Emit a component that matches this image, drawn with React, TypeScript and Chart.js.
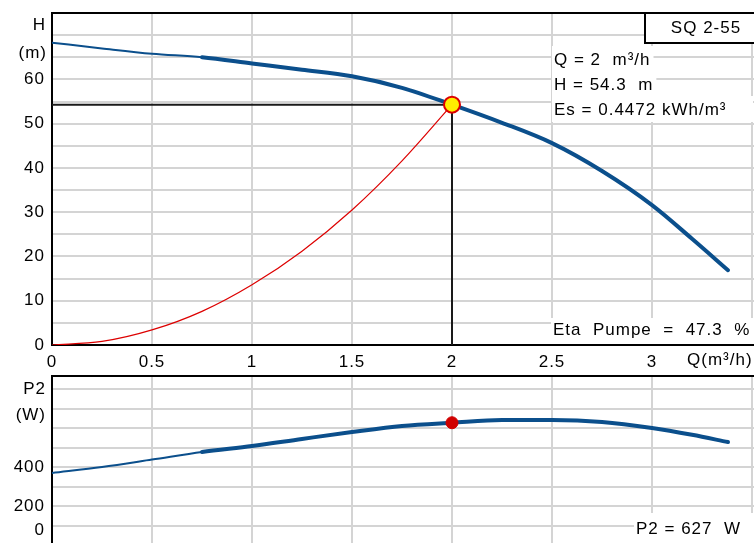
import React, { useEffect, useRef } from "react";
import { Chart, registerables } from "chart.js";
Chart.register(...registerables);

// ---------- data ----------
const Q_PUMP = [0, 0.25, 0.5, 0.75, 1, 1.25, 1.5, 1.75, 2, 2.25, 2.5, 2.75, 3, 3.2, 3.38];
const H_PUMP = [68.3, 67.0, 65.8, 65.0, 63.6, 62.2, 60.7, 58.1, 54.3, 50.2, 45.6, 39.3, 31.6, 24.0, 16.9];
const P2_PUMP = [369, 400, 438, 477, 508, 544, 579, 610, 627, 641, 641, 631, 600, 565, 528];
const Q_SYSTEM = [0, 0.25, 0.5, 0.75, 1, 1.25, 1.5, 1.75, 2];
const H_SYSTEM = [0, 0.8, 3.4, 7.6, 13.6, 21.2, 30.5, 41.6, 54.3];
const Q_DUTY = 2;
const H_DUTY = 54.3;
const P2_DUTY = 627;
const THICK_FROM_Q = 0.75;

const X_GRID = [0, 0.5, 1, 1.5, 2, 2.5, 3, 3.5];
const X_LABELS = ["0", "0.5", "1", "1.5", "2", "2.5", "3", ""];
const H_GRID = [0, 5, 10, 15, 20, 25, 30, 35, 40, 45, 50, 55, 60, 65, 70, 75];
const H_LABELS = ["0", "", "10", "", "20", "", "30", "", "40", "", "50", "", "60", "", "", ""];
const P2_GRID = [0, 100, 200, 300, 400, 500, 600, 700, 800];
const P2_LABELS = ["", "", "200", "", "400", "", "", "", ""];
const P2_ZERO_LABEL = "0";

const TITLE = "SQ 2-55";
const INFO_LINES = ["Q = 2  m³/h", "H = 54.3  m", "Es = 0.4472 kWh/m³"];
const ETA_TEXT = "Eta  Pumpe  =  47.3  %";
const P2_TEXT = "P2 = 627  W";
const H_UNIT = ["H", "(m)"];
const P2_UNIT = ["P2", "(W)"];
const Q_UNIT = "Q(m³/h)";

const BLUE = "#0b4f8c";
const RED = "#dd0000";
const YELLOW = "#ffee00";
const GRID = "#d4d4d4";
const FAMILY = "'Liberation Sans', Arial, sans-serif";
const FS = 17;
const FONT = `${FS}px ${FAMILY}`;
const SPACING = "1px";

const spacingPlugin = {
  id: "spacing",
  beforeUpdate(c: any) { c.ctx.letterSpacing = SPACING; },
  beforeDraw(c: any) { c.ctx.letterSpacing = SPACING; },
};

function boxText(ctx: any, text: string, x: number, yc: number, y0: number, y1: number, right?: number) {
  const w = ctx.measureText(text).width;
  ctx.fillStyle = "#fff";
  const r = right ?? x + w + 3;
  ctx.fillRect(x - 2, y0, r - (x - 2), y1 - y0);
  ctx.fillStyle = "#000";
  ctx.fillText(text, x, yc);
}

const topPlugin = {
  id: "topDeco",
  beforeDatasetsDraw(c: any) {
    const ctx = c.ctx;
    const { bottom } = c.chartArea;
    ctx.save();
    ctx.font = FONT;
    ctx.letterSpacing = SPACING;
    ctx.textBaseline = "middle";
    ctx.textAlign = "left";
    const ys = [60, 85, 110];
    INFO_LINES.forEach((t, i) =>
      boxText(ctx, t, 554, ys[i], ys[i] - 14, ys[i] + 12, i === 2 ? 753 : undefined)
    );
    boxText(ctx, ETA_TEXT, 553, 330, 318, bottom - 1, c.width);
    ctx.restore();
  },
  afterDraw(c: any) {
    const ctx = c.ctx;
    const { left, top, right } = c.chartArea;
    ctx.save();
    // SQ box
    ctx.fillStyle = "#fff";
    ctx.fillRect(645, top, c.width - 645, 30);
    ctx.strokeStyle = "#000";
    ctx.lineWidth = 2;
    ctx.strokeRect(645, top, c.width, 30);
    // top border
    ctx.beginPath();
    ctx.moveTo(left - 1, top);
    ctx.lineTo(right, top);
    ctx.stroke();
    ctx.font = FONT;
    ctx.letterSpacing = SPACING;
    ctx.fillStyle = "#000";
    ctx.textBaseline = "middle";
    ctx.textAlign = "center";
    ctx.fillText(TITLE, 706, top + 15);
    ctx.textAlign = "right";
    ctx.fillText(H_UNIT[0], 46, 25);
    ctx.fillText(H_UNIT[1], 47, 53);
    ctx.textAlign = "left";
    ctx.fillText(Q_UNIT, 687, 360);
    ctx.restore();
  },
};

const botPlugin = {
  id: "botDeco",
  beforeDatasetsDraw(c: any) {
    const ctx = c.ctx;
    const { bottom } = c.chartArea;
    ctx.save();
    ctx.font = FONT;
    ctx.letterSpacing = SPACING;
    ctx.textBaseline = "middle";
    ctx.textAlign = "left";
    boxText(ctx, P2_TEXT, 636, 167, 151, bottom, c.width);
    ctx.restore();
  },
  afterDraw(c: any) {
    const ctx = c.ctx;
    const { left, top, right } = c.chartArea;
    const y = c.scales.y;
    ctx.save();
    ctx.strokeStyle = "#000";
    ctx.lineWidth = 2;
    ctx.beginPath();
    ctx.moveTo(left - 1, top);
    ctx.lineTo(right, top);
    ctx.stroke();
    ctx.font = FONT;
    ctx.letterSpacing = SPACING;
    ctx.fillStyle = "#000";
    ctx.textBaseline = "middle";
    ctx.textAlign = "right";
    ctx.fillText(P2_UNIT[0], 46, top + 13);
    ctx.fillText(P2_UNIT[1], 46, top + 39);
    // zero label, pushed up to stay inside the visible window
    ctx.fillText(P2_ZERO_LABEL, 45, Math.min(y.getPixelForValue(0), c.height - 32));
    ctx.restore();
  },
};

const pts = (xs: number[], ys: number[]) => xs.map((x, i) => ({ x, y: ys[i] }));

export default function App() {
  const topRef = useRef<HTMLCanvasElement>(null);
  const botRef = useRef<HTMLCanvasElement>(null);

  useEffect(() => {
    Chart.defaults.font.family = FAMILY;
    Chart.defaults.font.size = FS;
    Chart.defaults.color = "#000";

    const seg = {
      borderWidth: (s: any) => (s.p0.parsed.x < THICK_FROM_Q - 1e-6 ? 2 : 4),
    };

    const xScale = (showLabels: boolean, height: number) => ({
      type: "linear" as const,
      min: 0,
      max: 3.6,
      afterBuildTicks: (s: any) => { s.ticks = X_GRID.map((v) => ({ value: v })); },
      afterFit: (s: any) => {
        s.height = height;
        s.paddingLeft = 0;
        s.paddingRight = 0;
      },
      grid: { color: GRID, lineWidth: 2, drawTicks: false },
      border: { display: showLabels, color: "#000", width: 2 },
      ticks: {
        display: showLabels,
        autoSkip: false,
        maxRotation: 0,
        padding: 7,
        callback: (v: any) => X_LABELS[X_GRID.indexOf(Number(v))] ?? "",
      },
    });

    const yScale = (max: number, grid: number[], labels: string[]) => ({
      type: "linear" as const,
      min: 0,
      max,
      afterBuildTicks: (s: any) => { s.ticks = grid.map((v) => ({ value: v })); },
      afterFit: (s: any) => {
        s.width = 52;
        s.paddingTop = 0;
        s.paddingBottom = 0;
      },
      grid: { color: GRID, lineWidth: 2, drawTicks: false },
      border: { color: "#000", width: 2 },
      ticks: {
        autoSkip: false,
        padding: 7,
        callback: (v: any) => labels[grid.indexOf(Number(v))] ?? "",
      },
    });

    const top = new Chart(topRef.current!, {
      type: "line",
      data: {
        datasets: [
          {
            data: [{ x: Q_DUTY, y: H_DUTY }],
            pointRadius: 8,
            pointBackgroundColor: YELLOW,
            pointBorderColor: RED,
            pointBorderWidth: 2,
            showLine: false,
          },
          {
            data: pts(Q_PUMP, H_PUMP),
            borderColor: BLUE,
            borderWidth: 4,
            borderCapStyle: "round",
            pointRadius: 0,
            cubicInterpolationMode: "monotone",
            segment: seg,
          },
          {
            data: pts(Q_SYSTEM, H_SYSTEM),
            borderColor: RED,
            borderWidth: 1.2,
            pointRadius: 0,
            cubicInterpolationMode: "monotone",
          },
          {
            data: [
              { x: 0, y: H_DUTY },
              { x: Q_DUTY, y: H_DUTY },
              { x: Q_DUTY, y: 0 },
            ],
            borderColor: "#1a1a1a",
            borderWidth: 2,
            pointRadius: 0,
            tension: 0,
          },
        ],
      },
      options: {
        responsive: false,
        animation: false,
        layout: { padding: { top: 13, right: 18, left: 0, bottom: 0 } },
        plugins: { legend: { display: false }, tooltip: { enabled: false } },
        scales: {
          x: xScale(true, 27),
          y: yScale(75, H_GRID, H_LABELS),
        },
      },
      plugins: [spacingPlugin, topPlugin],
    } as any);

    const bot = new Chart(botRef.current!, {
      type: "line",
      data: {
        datasets: [
          {
            data: [{ x: Q_DUTY, y: P2_DUTY }],
            pointRadius: 6,
            pointBackgroundColor: "#d00000",
            pointBorderColor: "#d00000",
            pointBorderWidth: 1,
            showLine: false,
          },
          {
            data: pts(Q_PUMP, P2_PUMP),
            borderColor: BLUE,
            borderWidth: 4,
            borderCapStyle: "round",
            pointRadius: 0,
            cubicInterpolationMode: "monotone",
            segment: seg,
          },
        ],
      },
      options: {
        responsive: false,
        animation: false,
        layout: { padding: { top: 14, right: 18, left: 0, bottom: 0 } },
        plugins: { legend: { display: false }, tooltip: { enabled: false } },
        scales: {
          x: xScale(false, 17),
          y: yScale(866.7, P2_GRID, P2_LABELS),
        },
      },
      plugins: [spacingPlugin, botPlugin],
    } as any);

    return () => {
      top.destroy();
      bot.destroy();
    };
  }, []);

  return (
    <div
      style={{
        position: "fixed",
        left: 0,
        top: 0,
        width: 754,
        height: 543,
        overflow: "hidden",
        background: "#fff",
      }}
    >
      <canvas
        ref={topRef}
        width={790}
        height={372}
        style={{ position: "absolute", left: 0, top: 0, display: "block" }}
      />
      <canvas
        ref={botRef}
        width={790}
        height={200}
        style={{ position: "absolute", left: 0, top: 362, display: "block" }}
      />
    </div>
  );
}
